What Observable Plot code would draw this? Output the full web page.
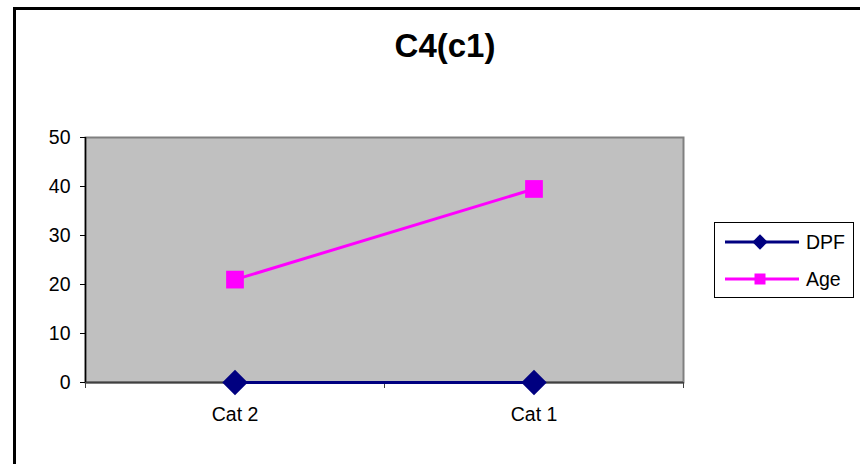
<!DOCTYPE html>
<html><head><meta charset="utf-8">
<script src="https://cdn.jsdelivr.net/npm/d3@7"></script>
<script src="https://cdn.jsdelivr.net/npm/@observablehq/plot@0.6"></script>
<style>
body{margin:0;background:#fff;font-family:"Liberation Sans",Arial,sans-serif;}
#wrap{position:relative;width:860px;height:464px;overflow:hidden;background:#fff;}
#border{position:absolute;left:13px;top:7px;width:900px;height:500px;border:3px solid #000;}
#chart{position:absolute;left:0;top:0;}
#title{position:absolute;left:0;width:890px;top:27px;text-align:center;font-weight:bold;font-size:33px;line-height:normal;color:#000;}
#legend{position:absolute;left:714px;top:222px;width:138px;height:74px;border:1px solid #000;background:#fff;}
</style></head>
<body>
<div id="wrap"><div id="border"></div><div id="chart"></div><div id="title"></div><div id="legend"></div></div>
<script>
const titleText = "C4(c1)";
const categories = ["Cat 2", "Cat 1"];
const seriesNames = ["DPF", "Age"];
const dpfValues = [0, 0];
const ageValues = [21, 39.5];
const yTicks = [0, 10, 20, 30, 40, 50];
const seriesColors = ["#000080", "#FF00FF"];
const seriesSymbols = ["diamond2", "square"];

document.getElementById("title").textContent = titleText;

const seriesValues = [dpfValues, ageValues];
const rows = [];
seriesNames.forEach((s, si) => {
  categories.forEach((c, i) => rows.push({series: s, cat: c, xi: i + 0.5, v: seriesValues[si][i]}));
});
const bySeries = s => rows.filter(d => d.series === s);

const chart = Plot.plot({
  width: 860, height: 464,
  marginLeft: 85, marginRight: 177, marginTop: 137, marginBottom: 82,
  style: {fontFamily: "Liberation Sans, Arial, sans-serif", fontSize: "19.5px", color: "#000", background: "transparent", overflow: "visible"},
  x: {type: "linear", domain: [0, categories.length]},
  y: {domain: [0, 50]},
  marks: [
    Plot.frame({fill: "#C0C0C0", stroke: "#808080", strokeWidth: 2}),
    Plot.ruleY([0], {stroke: "#404040", strokeWidth: 2}),
    Plot.ruleX([0], {stroke: "#000", strokeWidth: 1.5}),
    Plot.axisY({ticks: yTicks, tickSize: 5, tickPadding: 10, label: null, tickFormat: d => String(d)}),
    Plot.axisX({ticks: d3.range(categories.length + 1), tickSize: 6, tickFormat: () => "", label: null, stroke: "#404040"}),
    Plot.axisX({ticks: categories.map((c, i) => i + 0.5), tickSize: 0, tickPadding: 25, label: null, tickFormat: d => categories[Math.floor(d)]}),
    ...seriesNames.map((s, si) => Plot.line(bySeries(s), {x: "xi", y: "v", stroke: seriesColors[si], strokeWidth: 3})),
    ...seriesNames.map((s, si) => Plot.dot(bySeries(s), {x: "xi", y: "v", symbol: seriesSymbols[si], fill: seriesColors[si], stroke: "none", r: si === 0 ? 11.5 : 10}))
  ]
});
document.getElementById("chart").appendChild(chart);

// legend
const leg = d3.select("#legend").append("svg").attr("width", 138).attr("height", 74)
  .style("display", "block").style("font-family", "Liberation Sans, Arial, sans-serif");
const legSym = [d3.symbol(d3.symbolDiamond2, 150), d3.symbol(d3.symbolSquare, 121)];
seriesNames.forEach((s, si) => {
  const cy = 19 + si * 37;
  const g = leg.append("g");
  g.append("line").attr("x1", 10).attr("x2", 84).attr("y1", cy).attr("y2", cy)
    .attr("stroke", seriesColors[si]).attr("stroke-width", 3);
  g.append("path").attr("d", legSym[si]()).attr("transform", `translate(45,${cy})`).attr("fill", seriesColors[si]);
  g.append("text").attr("x", 91).attr("y", cy).attr("dy", "0.35em").attr("font-size", 19.5).attr("fill", "#000").text(s);
});
</script>
</body></html>
